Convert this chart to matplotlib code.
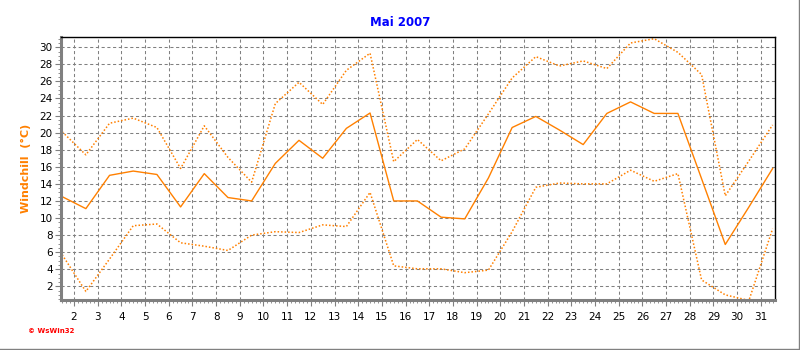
import matplotlib.pyplot as plt
from matplotlib.ticker import MultipleLocator
from matplotlib.lines import Line2D

# Mai 2007 windchill, one value per day (drawn at day + 0.5)
days = list(range(1, 32))
wc_max = [20.1, 17.4, 21.1, 21.7, 20.6, 15.8, 20.8, 17.1, 14.2, 23.4,
          25.9, 23.3, 27.3, 29.3, 16.6, 19.2, 16.7, 18.1, 22.2, 26.4,
          28.9, 27.8, 28.4, 27.5, 30.5, 31.0, 29.4, 26.8, 12.6, 16.7, 20.9]
wc_mean = [12.5, 11.1, 15.0, 15.5, 15.1, 11.3, 15.2, 12.4, 12.0, 16.4,
           19.1, 17.0, 20.5, 22.3, 12.0, 12.0, 10.1, 9.9, 14.7, 20.6,
           21.9, 20.3, 18.6, 22.25, 23.6, 22.25, 22.25, 14.6, 6.9, 11.3, 15.8]
wc_min = [5.7, 1.4, 5.2, 9.1, 9.3, 7.1, 6.7, 6.2, 8.0, 8.4,
          8.3, 9.2, 9.0, 13.0, 4.4, 4.05, 4.05, 3.6, 3.9, 8.4,
          13.6, 14.1, 14.0, 14.0, 15.6, 14.3, 15.2, 2.75, 1.0, 0.35, 8.75]
xticks = list(range(2, 32))
yticks = list(range(2, 31, 2))

orange = '#FF8000'
grey = '#808080'

fig = plt.figure(figsize=(8, 3.5), dpi=100)
ax = fig.add_axes([61/800, 1 - 300/350, (775 - 61)/800, (300 - 37)/350])

x = [d + 0.5 for d in days]
ax.plot(x, wc_max, color=orange, lw=1.1, ls=(0, (1, 1.3)))
ax.plot(x, wc_mean, color=orange, lw=1.0)
ax.plot(x, wc_min, color=orange, lw=1.1, ls=(0, (1, 1.3)))

ax.set_xlim(1.45, 31.6)
ax.set_ylim(0.4, 31.2)
ax.set_xticks(xticks)
ax.set_yticks(yticks)
ax.xaxis.set_minor_locator(MultipleLocator(1/6))
ax.yaxis.set_minor_locator(MultipleLocator(0.5))
ax.grid(True, which='major', color=grey, ls=(0, (3, 2.5)), lw=0.75)
ax.tick_params(axis='both', which='major', labelsize=7.5, length=4,
               width=0.8, color=grey, direction='out', pad=2)
ax.tick_params(axis='both', which='minor', length=2, width=0.6,
               color=grey, direction='out')
ax.tick_params(axis='x', which='major', pad=5)

for side in ['left', 'bottom']:
    ax.spines[side].set_color(grey)
    ax.spines[side].set_linewidth(2.2)
for side in ['top', 'right']:
    ax.spines[side].set_color('black')
    ax.spines[side].set_linewidth(1.0)

ax.set_ylabel('Windchill  (°C)', color=orange, fontsize=8, fontweight='bold',
              labelpad=6)
fig.text(0.5, 1 - 22/350, 'Mai 2007', color='#0000FF', fontsize=8.5,
         fontweight='bold', ha='center', va='center')
fig.text(28/800, 1 - 331/350, '© WsWin32', color='red', fontsize=5,
         fontweight='bold', ha='left', va='center')

# thin grey frame at right and bottom edges of the picture
fig.add_artist(Line2D([0, 1], [1/350, 1/350], color=grey, lw=1,
                      transform=fig.transFigure))
fig.add_artist(Line2D([798.5/800, 798.5/800], [0, 1], color=grey, lw=1,
                      transform=fig.transFigure))

fig.savefig('out.png', dpi=100)
